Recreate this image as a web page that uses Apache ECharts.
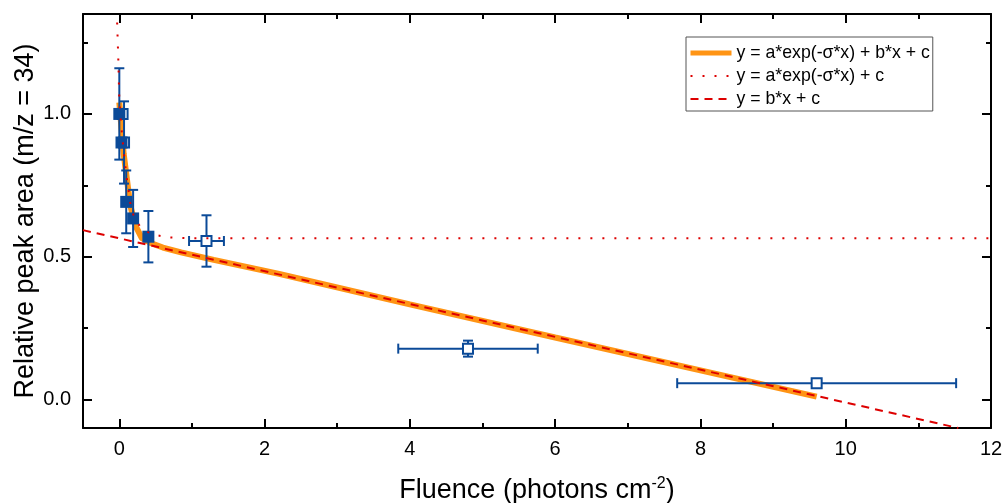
<!DOCTYPE html>
<html>
<head>
<meta charset="utf-8">
<script src="https://cdn.jsdelivr.net/npm/echarts@6/dist/echarts.min.js"></script>
<style>
html,body{margin:0;padding:0;background:#fff;}
#c{width:1004px;height:503px;}
</style>
</head>
<body>
<div id="c"></div>
<script>
// ---- data ----
const closedX = [0, 0.03, 0.095, 0.19, 0.4];
const closedY = [1.0, 0.9, 0.692, 0.634, 0.57];
const closedYErr = [0.16, 0, 0.11, 0.10, 0.09];

const openX = [0.045, 0.065, 1.2, 4.8, 9.6];
const openY = [1.0, 0.9, 0.555, 0.178, 0.057];
const openXErr = [0, 0, 0.24, 0.96, 1.92];
const openYErr = [0, 0.144, 0.09, 0.028, 0.01];

const fitFullX = [0, 0.03, 0.06, 0.1, 0.15, 0.22, 0.31, 0.43, 0.6, 0.85, 1.3, 2.2, 4, 6, 8, 9.6];
const fitFullY = [1.04, 0.95, 0.86, 0.78, 0.68, 0.61, 0.565, 0.548, 0.532, 0.515, 0.489, 0.44, 0.333, 0.217, 0.102, 0.01];

const fitExpX = [-0.03, -0.015, 0, 0.025, 0.04, 0.075, 0.1, 0.15, 0.2, 0.3, 0.45, 0.7, 1.0, 12];
const fitExpY = [1.32, 1.2, 1.05, 0.965, 0.92, 0.835, 0.78, 0.69, 0.64, 0.6, 0.578, 0.567, 0.565, 0.565];

const fitLinX = [-0.5, 11.55];
const fitLinY = [0.593, -0.1];

const xTicks = [0, 2, 4, 6, 8, 10, 12];
const xMinorTicks = [1, 3, 5, 7, 9, 11];
const yTicks = [0, 0.5, 1.0];
const yMinorTicks = [0.25, 0.75, 1.25];

const legendNames = ['y = a*exp(-σ*x) + b*x + c', 'y = a*exp(-σ*x) + c', 'y = b*x + c'];

// ---- helpers ----
const zip = (xs, ys) => xs.map((x, i) => [x, ys[i]]);
const BLUE = '#0b4a98';
const RED = '#dd0000';
const ORANGE = '#ff9414';
const FONT = 'Liberation Sans, Arial, sans-serif';

const X_MIN = -0.5, X_MAX = 12, Y_MIN = -0.1, Y_MAX = 1.35;

function xAxisDef(pos, ticks, len, showLabel, showLine) {
  return {
    type: 'value', position: pos, min: X_MIN, max: X_MAX,
    splitLine: {show: false},
    axisLine: {show: showLine, onZero: false, lineStyle: {color: '#000', width: 2}},
    axisTick: {show: true, inside: true, length: len, customValues: ticks, lineStyle: {color: '#000', width: 2}},
    axisLabel: showLabel ? {show: true, customValues: ticks, color: '#000', fontSize: 20, fontFamily: FONT, margin: 11} : {show: false}
  };
}
function yAxisDef(pos, ticks, len, showLabel, showLine) {
  return {
    type: 'value', position: pos, min: Y_MIN, max: Y_MAX,
    splitLine: {show: false},
    axisLine: {show: showLine, onZero: false, lineStyle: {color: '#000', width: 2}},
    axisTick: {show: true, inside: true, length: len, customValues: ticks, lineStyle: {color: '#000', width: 2}},
    axisLabel: showLabel ? {show: true, customValues: ticks, color: '#000', fontSize: 20, fontFamily: FONT, margin: 12,
      formatter: v => v.toFixed(1)} : {show: false}
  };
}

const xAxes = [
  xAxisDef('bottom', xTicks, 9, true, true),
  xAxisDef('bottom', xMinorTicks, 5, false, false),
  xAxisDef('top', xTicks, 9, false, true),
  xAxisDef('top', xMinorTicks, 5, false, false)
];
xAxes[0].name = 'Fluence (photons cm{sup|-2})';
xAxes[0].nameLocation = 'middle';
xAxes[0].nameGap = 48;
xAxes[0].nameMoveOverlap = false;
xAxes[0].nameTextStyle = {color: '#000', fontSize: 27, fontFamily: FONT,
  rich: {sup: {fontSize: 16, fontFamily: FONT, color: '#000', padding: [0, 0, 14, 0]}}};

const yAxes = [
  yAxisDef('left', yTicks, 9, true, true),
  yAxisDef('left', yMinorTicks, 5, false, false),
  yAxisDef('right', yTicks, 9, false, true),
  yAxisDef('right', yMinorTicks, 5, false, false)
];
yAxes[0].name = 'Relative peak area (m/z = 34)';
yAxes[0].nameLocation = 'middle';
yAxes[0].nameGap = 44;
yAxes[0].nameMoveOverlap = false;
yAxes[0].nameTextStyle = {color: '#000', fontSize: 27, fontFamily: FONT};

function errRender(params, api) {
  const x = api.value(0), y = api.value(1), ex = api.value(2), ey = api.value(3);
  const c = api.coord([x, y]);
  const children = [];
  const st = {stroke: BLUE, lineWidth: 2};
  const cap = 5;
  if (ey > 0) {
    const t = api.coord([x, y + ey]), b = api.coord([x, y - ey]);
    children.push({type: 'line', shape: {x1: c[0], y1: t[1], x2: c[0], y2: b[1]}, style: st});
    children.push({type: 'line', shape: {x1: c[0] - cap, y1: t[1], x2: c[0] + cap, y2: t[1]}, style: st});
    children.push({type: 'line', shape: {x1: c[0] - cap, y1: b[1], x2: c[0] + cap, y2: b[1]}, style: st});
  }
  if (ex > 0) {
    const l = api.coord([x - ex, y]), r = api.coord([x + ex, y]);
    children.push({type: 'line', shape: {x1: l[0], y1: c[1], x2: r[0], y2: c[1]}, style: st});
    children.push({type: 'line', shape: {x1: l[0], y1: c[1] - cap, x2: l[0], y2: c[1] + cap}, style: st});
    children.push({type: 'line', shape: {x1: r[0], y1: c[1] - cap, x2: r[0], y2: c[1] + cap}, style: st});
  }
  return {type: 'group', children};
}

const closedErrData = closedX.map((x, i) => [x, closedY[i], 0, closedYErr[i]]);
const openErrData = openX.map((x, i) => [x, openY[i], openXErr[i], openYErr[i]]);

const option = {
  animation: false,
  backgroundColor: '#fff',
  grid: {left: 83, right: 13, top: 14, bottom: 75, containLabel: false, outerBoundsMode: 'none'},
  xAxis: xAxes,
  yAxis: yAxes,
  legend: {
    orient: 'vertical', left: 686, top: 37,
    data: [
      {name: legendNames[0], lineStyle: {width: 5}},
      {name: legendNames[1], lineStyle: {width: 2}},
      {name: legendNames[2], lineStyle: {width: 2}}
    ],
    itemWidth: 41, itemHeight: 14, itemGap: 5,
    padding: [7, 3, 3, 2],
    borderColor: '#555', borderWidth: 1,
    itemStyle: {opacity: 0, color: 'transparent', borderWidth: 0},
    textStyle: {color: '#000', fontSize: 17.7, fontFamily: FONT},
    selectedMode: false
  },
  series: [
    {
      name: legendNames[0], type: 'line', data: zip(fitFullX, fitFullY),
      showSymbol: false, symbol: 'none', z: 1,
      lineStyle: {color: ORANGE, width: 6}, itemStyle: {color: ORANGE}
    },
    {
      type: 'custom', renderItem: errRender, data: closedErrData, z: 2, silent: true,
      encode: {x: 0, y: 1}
    },
    {
      type: 'custom', renderItem: errRender, data: openErrData, z: 2, silent: true,
      encode: {x: 0, y: 1}
    },
    {
      type: 'scatter', data: zip(openX, openY), symbol: 'rect', symbolSize: 10, z: 3,
      itemStyle: {color: '#fff', borderColor: BLUE, borderWidth: 2, opacity: 1}
    },
    {
      type: 'scatter', data: zip(closedX, closedY), symbol: 'rect', symbolSize: 12, z: 3,
      itemStyle: {color: BLUE, opacity: 1}
    },
    {
      name: legendNames[1], type: 'line', data: zip(fitExpX, fitExpY),
      showSymbol: false, symbol: 'none', z: 4,
      lineStyle: {color: RED, width: 2, type: [2, 10]}, itemStyle: {color: RED}
    },
    {
      name: legendNames[2], type: 'line', data: zip(fitLinX, fitLinY),
      showSymbol: false, symbol: 'none', z: 4,
      lineStyle: {color: RED, width: 2, type: [8, 6]}, itemStyle: {color: RED}
    }
  ]
};

const chart = echarts.init(document.getElementById('c'), null, {renderer: 'canvas'});
chart.setOption(option);
</script>
</body>
</html>
